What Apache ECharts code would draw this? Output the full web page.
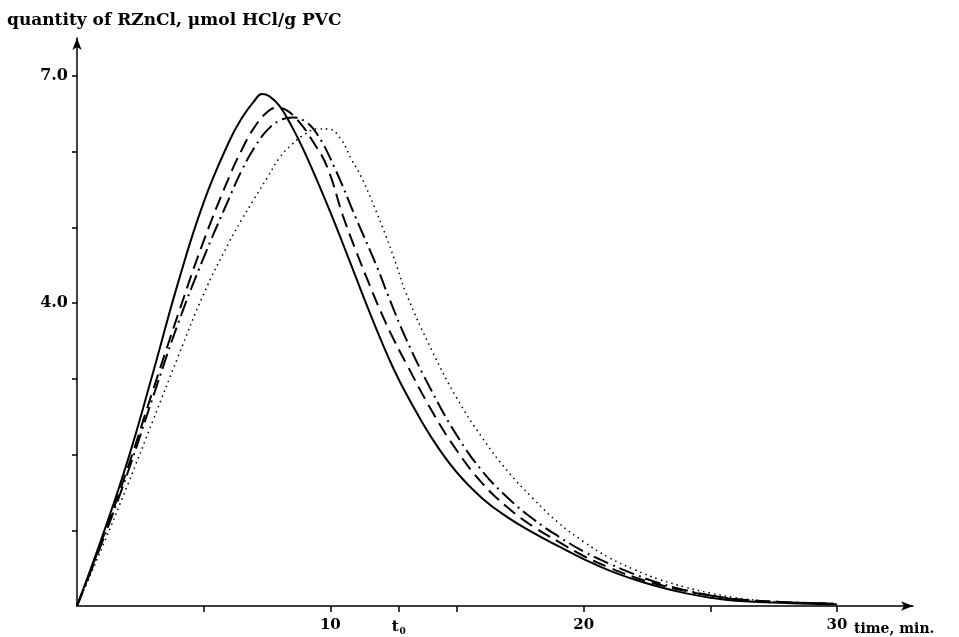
<!DOCTYPE html>
<html><head><meta charset="utf-8">
<script src="https://cdn.jsdelivr.net/npm/echarts@6/dist/echarts.min.js"></script>
<style>html,body{margin:0;padding:0;background:#fff}#c{width:959px;height:637px}</style>
</head><body><div id="c"></div>
<script>
// time (min) and quantity of RZnCl (µmol HCl/g PVC) for the four curves
const solidT = [0,1,2,3,4,5,6,6.5,7,7.3,7.6,8,8.5,9,9.5,10,10.5,11,11.5,12,12.5,13,14,15,16,17,18,19,20,21,22,23,24,25,26,28,30];
const solidV = [0,0.92,1.92,3.08,4.28,5.33,6.13,6.44,6.67,6.76,6.73,6.6,6.32,5.98,5.6,5.2,4.78,4.35,3.92,3.51,3.13,2.8,2.22,1.76,1.42,1.17,0.97,0.79,0.62,0.47,0.35,0.25,0.17,0.11,0.07,0.04,0.02];

const dashT = [0,1,2,3,4,5,6,6.5,7,7.5,7.9,8.3,8.8,9.3,9.87,10.5,11,11.5,12,12.5,13,14,15,16,17,18,19,20,21,22,23,24,25,26,28,30];
const dashV = [0,0.88,1.82,2.85,3.86,4.82,5.66,6.02,6.32,6.52,6.58,6.54,6.38,6.14,5.8,5.15,4.7,4.28,3.88,3.52,3.2,2.58,2.05,1.62,1.3,1.05,0.85,0.66,0.51,0.38,0.28,0.2,0.14,0.09,0.05,0.03];

const dashDotT = [0,1,2,3,4,5,6,6.5,7,7.5,8,8.5,9,9.5,10.15,11,11.84,12.28,13,14,15,16,17,18,19,20,21,22,23,24,25,26,28,30];
const dashDotV = [0,0.85,1.76,2.76,3.74,4.6,5.38,5.75,6.05,6.28,6.41,6.45,6.4,6.22,5.8,5.13,4.48,4.1,3.52,2.84,2.25,1.78,1.43,1.15,0.92,0.72,0.56,0.42,0.3,0.21,0.14,0.09,0.05,0.03];

const dotT = [0,1,2,3,4,5,6,6.5,7,7.5,8,8.5,9,9.5,9.9,10.4,10.86,11.2,11.7,12.2,12.63,13,14,15,16,17,18,19,20,21,22,23,24,25,26,27,28,30];
const dotV = [0,0.78,1.6,2.45,3.3,4.12,4.8,5.1,5.38,5.65,5.92,6.1,6.23,6.3,6.3,6.17,5.88,5.68,5.3,4.88,4.48,4.12,3.38,2.74,2.22,1.78,1.42,1.1,0.85,0.64,0.48,0.35,0.25,0.17,0.11,0.07,0.05,0.03];

const xTicks = [5,10,12.7,15,20,25,30];
const xLabels = [10,12.7,20,30];
const T0 = 12.7;
const yTicks = [1,2,3,4,5,6,7];
const yLabels = [4,7];

const FONT = 'DejaVu Serif';
const zip = (t, v) => t.map((x, i) => [x, v[i]]);
const SMOOTH = 0.45;

const chart = echarts.init(document.getElementById('c'), null, {renderer: 'canvas'});
chart.setOption({
  animation: false,
  backgroundColor: '#fff',
  title: {
    text: 'quantity of RZnCl, \u03bcmol HCl/g PVC',
    left: 2, top: 7,
    textStyle: {fontFamily: FONT, fontWeight: 'bold', fontSize: 17, color: '#000'}
  },
  grid: {left: 77, right: 46, top: 38, bottom: 31, containLabel: false},
  xAxis: {
    type: 'value', min: 0, max: 33,
    axisLine: {show: true, onZero: false, symbol: ['none', 'arrow'], symbolSize: [7, 12], lineStyle: {color: '#000', width: 1.5}},
    axisTick: {show: true, customValues: xTicks, length: 6, lineStyle: {color: '#000', width: 1.5}},
    axisLabel: {
      customValues: xLabels, margin: 12, color: '#000',
      fontFamily: FONT, fontWeight: 'bold', fontSize: 15,
      formatter: v => v === T0 ? '{t|t}{s|0}' : String(v),
      rich: {
        t: {fontFamily: FONT, fontWeight: 'bold', fontSize: 15, lineHeight: 18, color: '#000'},
        s: {fontFamily: FONT, fontWeight: 'bold', fontSize: 9, lineHeight: 18, verticalAlign: 'bottom', color: '#000', padding: [0, 0, 0, 1]}
      }
    },
    splitLine: {show: false},
    name: 'time, min.', nameLocation: 'end', nameGap: -59,
    nameTextStyle: {fontFamily: FONT, fontWeight: 'bold', fontSize: 14, color: '#000', verticalAlign: 'top', padding: [16, 0, 0, 0]}
  },
  yAxis: {
    type: 'value', min: 0, max: 7.5,
    axisLine: {show: true, onZero: false, symbol: ['none', 'arrow'], symbolSize: [7, 12], lineStyle: {color: '#000', width: 1.5}},
    axisTick: {show: true, customValues: yTicks, length: 5, lineStyle: {color: '#000', width: 1.5}},
    axisLabel: {
      customValues: yLabels, margin: 9, color: '#000',
      fontFamily: FONT, fontWeight: 'bold', fontSize: 16,
      formatter: v => v.toFixed(1)
    },
    splitLine: {show: false}
  },
  series: [
    {type: 'line', data: zip(solidT, solidV), showSymbol: false, smooth: SMOOTH,
     lineStyle: {color: '#000', width: 2, type: 'solid'}},
    {type: 'line', data: zip(dashT, dashV), showSymbol: false, smooth: SMOOTH,
     lineStyle: {color: '#000', width: 2, type: [14, 7]}},
    {type: 'line', data: zip(dashDotT, dashDotV), showSymbol: false, smooth: SMOOTH,
     lineStyle: {color: '#000', width: 2, type: [16, 5, 2, 5]}},
    {type: 'line', data: zip(dotT, dotV), showSymbol: false, smooth: SMOOTH,
     lineStyle: {color: '#000', width: 1.5, type: [1.5, 4]}}
  ]
});
</script>
</body></html>
